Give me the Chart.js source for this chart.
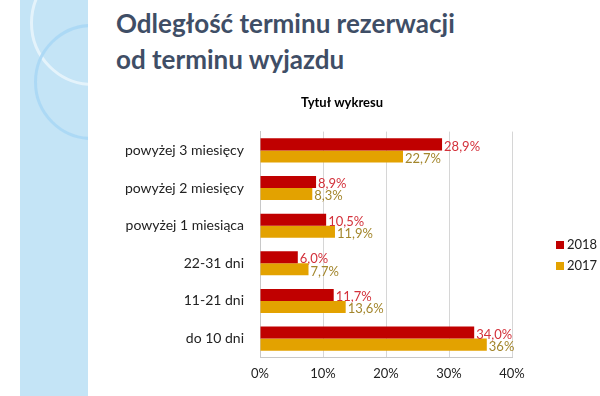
<!DOCTYPE html>
<html>
<head>
<meta charset="utf-8">
<script src="https://cdn.jsdelivr.net/npm/chart.js@4"></script>
<style>
  html, body { margin: 0; padding: 0; background: #fff; }
  #wrap { position: relative; width: 600px; height: 396px; overflow: hidden; }
  #strip { position: absolute; left: 20px; top: 0; width: 68px; height: 396px; background: #c4e4f6; overflow: hidden; }
  .ring { position: absolute; border-radius: 50%; border: 3px solid rgba(255,255,255,0.55); }
  #title { position: absolute; left: 116px; top: 5px; margin: 0; font: bold 26px Lato, sans-serif;
           color: #3f4e66; line-height: 36px; }
  #chart { position: absolute; left: 0; top: 0; }
</style>
</head>
<body>
<div id="wrap">
  <div id="strip">
    <div class="ring" style="left:10px; top:-40px; width:120px; height:120px;"></div>
    <div class="ring" style="left:14px; top:24px; width:110px; height:110px; border-color: rgba(170,215,245,0.9);"></div>
  </div>
  <h1 id="title">Odległość terminu rezerwacji<br>od terminu wyjazdu</h1>
  <canvas id="chart" width="600" height="396"></canvas>
</div>
<script>
const categories = [
  "powyżej 3 miesięcy",
  "powyżej 2 miesięcy",
  "powyżej 1 miesiąca",
  "22-31 dni",
  "11-21 dni",
  "do 10 dni",
];
const values2018 = [28.9, 8.9, 10.5, 6.0, 11.7, 34.0];
const values2017 = [22.7, 8.3, 11.9, 7.7, 13.6, 36];
const labels2018 = ["28,9%", "8,9%", "10,5%", "6,0%", "11,7%", "34,0%"];
const labels2017 = ["22,7%", "8,3%", "11,9%", "7,7%", "13,6%", "36%"];
const xTicks = [0, 10, 20, 30, 40];

const FONT = "Lato, 'Open Sans', sans-serif";

// Etykiety wartości na końcu każdego słupka.
const valueLabels = {
  id: "valueLabels",
  afterDatasetsDraw(chart) {
    const { ctx } = chart;
    ctx.save();
    ctx.font = "13px " + FONT;
    ctx.textBaseline = "middle";
    ctx.textAlign = "left";
    chart.data.datasets.forEach((ds, i) => {
      const meta = chart.getDatasetMeta(i);
      ctx.fillStyle = ds.labelColor;
      meta.data.forEach((bar, j) => {
        ctx.fillText(ds.texts[j], bar.x + 2, bar.y + 2);
      });
    });
    ctx.restore();
  },
};

// Legenda po prawej stronie, obok obszaru wykresu.
const sideLegend = {
  id: "sideLegend",
  afterDraw(chart) {
    const { ctx, chartArea } = chart;
    const x = chartArea.right + 44;
    const midY = (chartArea.top + chartArea.bottom) / 2 + 11;
    ctx.save();
    ctx.font = "13px " + FONT;
    ctx.textBaseline = "middle";
    ctx.textAlign = "left";
    chart.data.datasets.forEach((ds, i) => {
      const y = midY + (i - 0.5) * 21;
      ctx.fillStyle = ds.backgroundColor;
      ctx.fillRect(x, y - 4, 8, 8);
      ctx.fillStyle = "#222";
      ctx.fillText(ds.label, x + 11, y);
    });
    ctx.restore();
  },
};

new Chart(document.getElementById("chart"), {
  type: "bar",
  data: {
    labels: categories,
    datasets: [
      {
        label: "2018",
        data: values2018,
        texts: labels2018,
        backgroundColor: "#c00000",
        labelColor: "#d3313b",
        categoryPercentage: 0.64,
        barPercentage: 1.0,
      },
      {
        label: "2017",
        data: values2017,
        texts: labels2017,
        backgroundColor: "#e3a200",
        labelColor: "#a3862c",
        categoryPercentage: 0.64,
        barPercentage: 1.0,
      },
    ],
  },
  options: {
    indexAxis: "y",
    responsive: false,
    animation: false,
    layout: { padding: { left: 100, right: 16, top: 95, bottom: 5 } },
    plugins: {
      title: {
        display: true,
        text: "Tytuł wykresu",
        color: "#000",
        font: { family: FONT, size: 13, weight: "bold" },
        padding: { top: 0, bottom: 21 },
      },
      legend: { display: false },
      tooltip: { enabled: false },
    },
    scales: {
      x: {
        min: 0,
        max: 40,
        afterBuildTicks: (axis) => { axis.ticks = xTicks.map((v) => ({ value: v })); },
        grid: { color: "#d6d6d6", drawTicks: false },
        border: { color: "#c8c8c8" },
        ticks: {
          color: "#222",
          font: { family: FONT, size: 13 },
          padding: 9,
          callback: (v) => v + "%",
        },
      },
      y: {
        afterFit: (axis) => { axis.width = 160; },
        grid: { display: false },
        border: { color: "#c8c8c8" },
        ticks: {
          color: "#222",
          font: { family: FONT, size: 14 },
          padding: 8,
        },
      },
      // pusta oś po prawej – rezerwuje miejsce na legendę
      legendSpace: {
        type: "category",
        axis: "y",
        position: "right",
        afterFit: (axis) => { axis.width = 72; },
        grid: { display: false },
        border: { display: false },
        ticks: { display: false },
      },
    },
  },
  plugins: [valueLabels, sideLegend],
});
</script>
</body>
</html>
